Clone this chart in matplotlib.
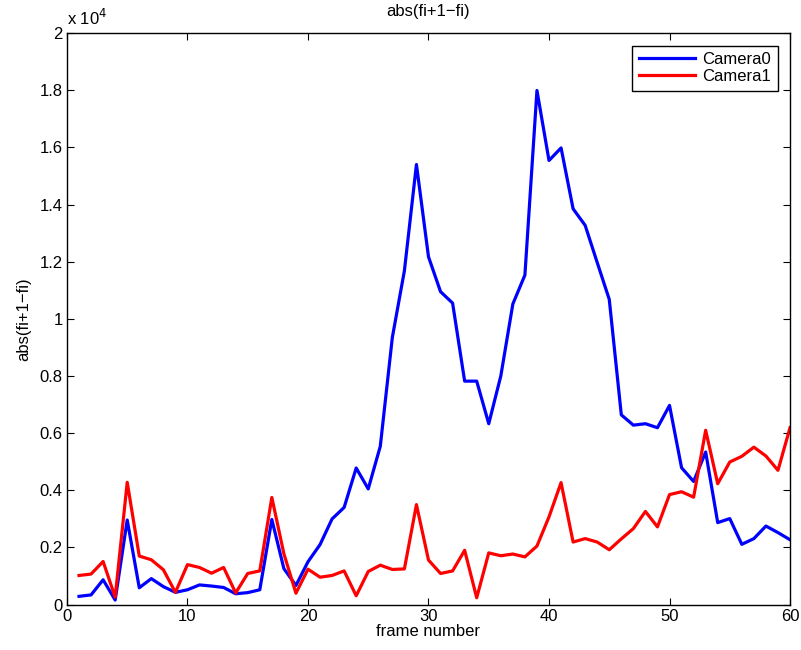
import numpy as np
import matplotlib
matplotlib.use('Agg')
import matplotlib.pyplot as plt
from matplotlib.ticker import FixedLocator, FixedFormatter

plt.rcParams['font.family'] = ['Liberation Sans Narrow', 'Liberation Sans', 'DejaVu Sans']

# frame index 1..60, values in units of 1e4
frames = np.arange(1, 61)
camera0 = [0.029, 0.034, 0.087, 0.016, 0.296, 0.059, 0.091, 0.063, 0.043, 0.052,
           0.069, 0.065, 0.060, 0.038, 0.042, 0.052, 0.298, 0.126, 0.067, 0.150,
           0.210, 0.300, 0.340, 0.478, 0.405, 0.554, 0.935, 1.168, 1.540, 1.217,
           1.095, 1.055, 0.782, 0.782, 0.633, 0.800, 1.052, 1.153, 1.799, 1.554,
           1.598, 1.385, 1.327, 1.197, 1.068, 0.664, 0.628, 0.633, 0.619, 0.697,
           0.479, 0.431, 0.534, 0.287, 0.301, 0.211, 0.231, 0.275, 0.252, 0.227]
camera1 = [0.102, 0.107, 0.151, 0.026, 0.428, 0.170, 0.157, 0.122, 0.043, 0.140,
           0.130, 0.110, 0.130, 0.041, 0.109, 0.118, 0.375, 0.178, 0.040, 0.124,
           0.096, 0.102, 0.118, 0.031, 0.116, 0.138, 0.123, 0.125, 0.350, 0.156,
           0.109, 0.118, 0.190, 0.024, 0.181, 0.171, 0.177, 0.167, 0.205, 0.307,
           0.427, 0.219, 0.231, 0.219, 0.192, 0.230, 0.266, 0.326, 0.272, 0.385,
           0.395, 0.376, 0.610, 0.423, 0.499, 0.519, 0.551, 0.520, 0.470, 0.619]
series_labels = ['Camera0', 'Camera1']

xticks = [0, 10, 20, 30, 40, 50, 60]
yticks = [0, 0.2, 0.4, 0.6, 0.8, 1.0, 1.2, 1.4, 1.6, 1.8, 2.0]
ytick_labels = ['0', '0.2', '0.4', '0.6', '0.8', '1', '1.2', '1.4', '1.6', '1.8', '2']

fig = plt.figure(figsize=(8.01, 6.5), dpi=100)
ax = fig.add_axes([0.0836, 0.0698, 0.9027, 0.8794])

ax.plot(frames, camera0, color='#0000ff', lw=2.3, label=series_labels[0])
ax.plot(frames, camera1, color='#ff0000', lw=2.3, label=series_labels[1])

ax.set_xlim(0, 60)
ax.set_ylim(0, 2)
ax.xaxis.set_major_locator(FixedLocator(xticks))
ax.yaxis.set_major_locator(FixedLocator(yticks))
ax.yaxis.set_major_formatter(FixedFormatter(ytick_labels))
ax.tick_params(direction='in', top=True, right=True, length=5, width=0.8,
               labelsize=12, pad=3)
for s in ax.spines.values():
    s.set_linewidth(1.0)

ax.set_title('abs(fi+1\u2212fi)', fontsize=12, pad=12)
ax.set_xlabel('frame number', fontsize=12, labelpad=0)
ax.set_ylabel('abs(fi+1\u2212fi)', fontsize=12, labelpad=6)
ax.text(0.0, 1.008, 'x 10$^4$', transform=ax.transAxes, fontsize=12,
        ha='left', va='bottom')

ax.legend(loc='upper right', fontsize=12, frameon=True, fancybox=False,
          edgecolor='black', framealpha=1, handlelength=3.4,
          borderaxespad=0.75, borderpad=0.4, labelspacing=0.1, handletextpad=0.4)

fig.savefig('out.png', dpi=100)
